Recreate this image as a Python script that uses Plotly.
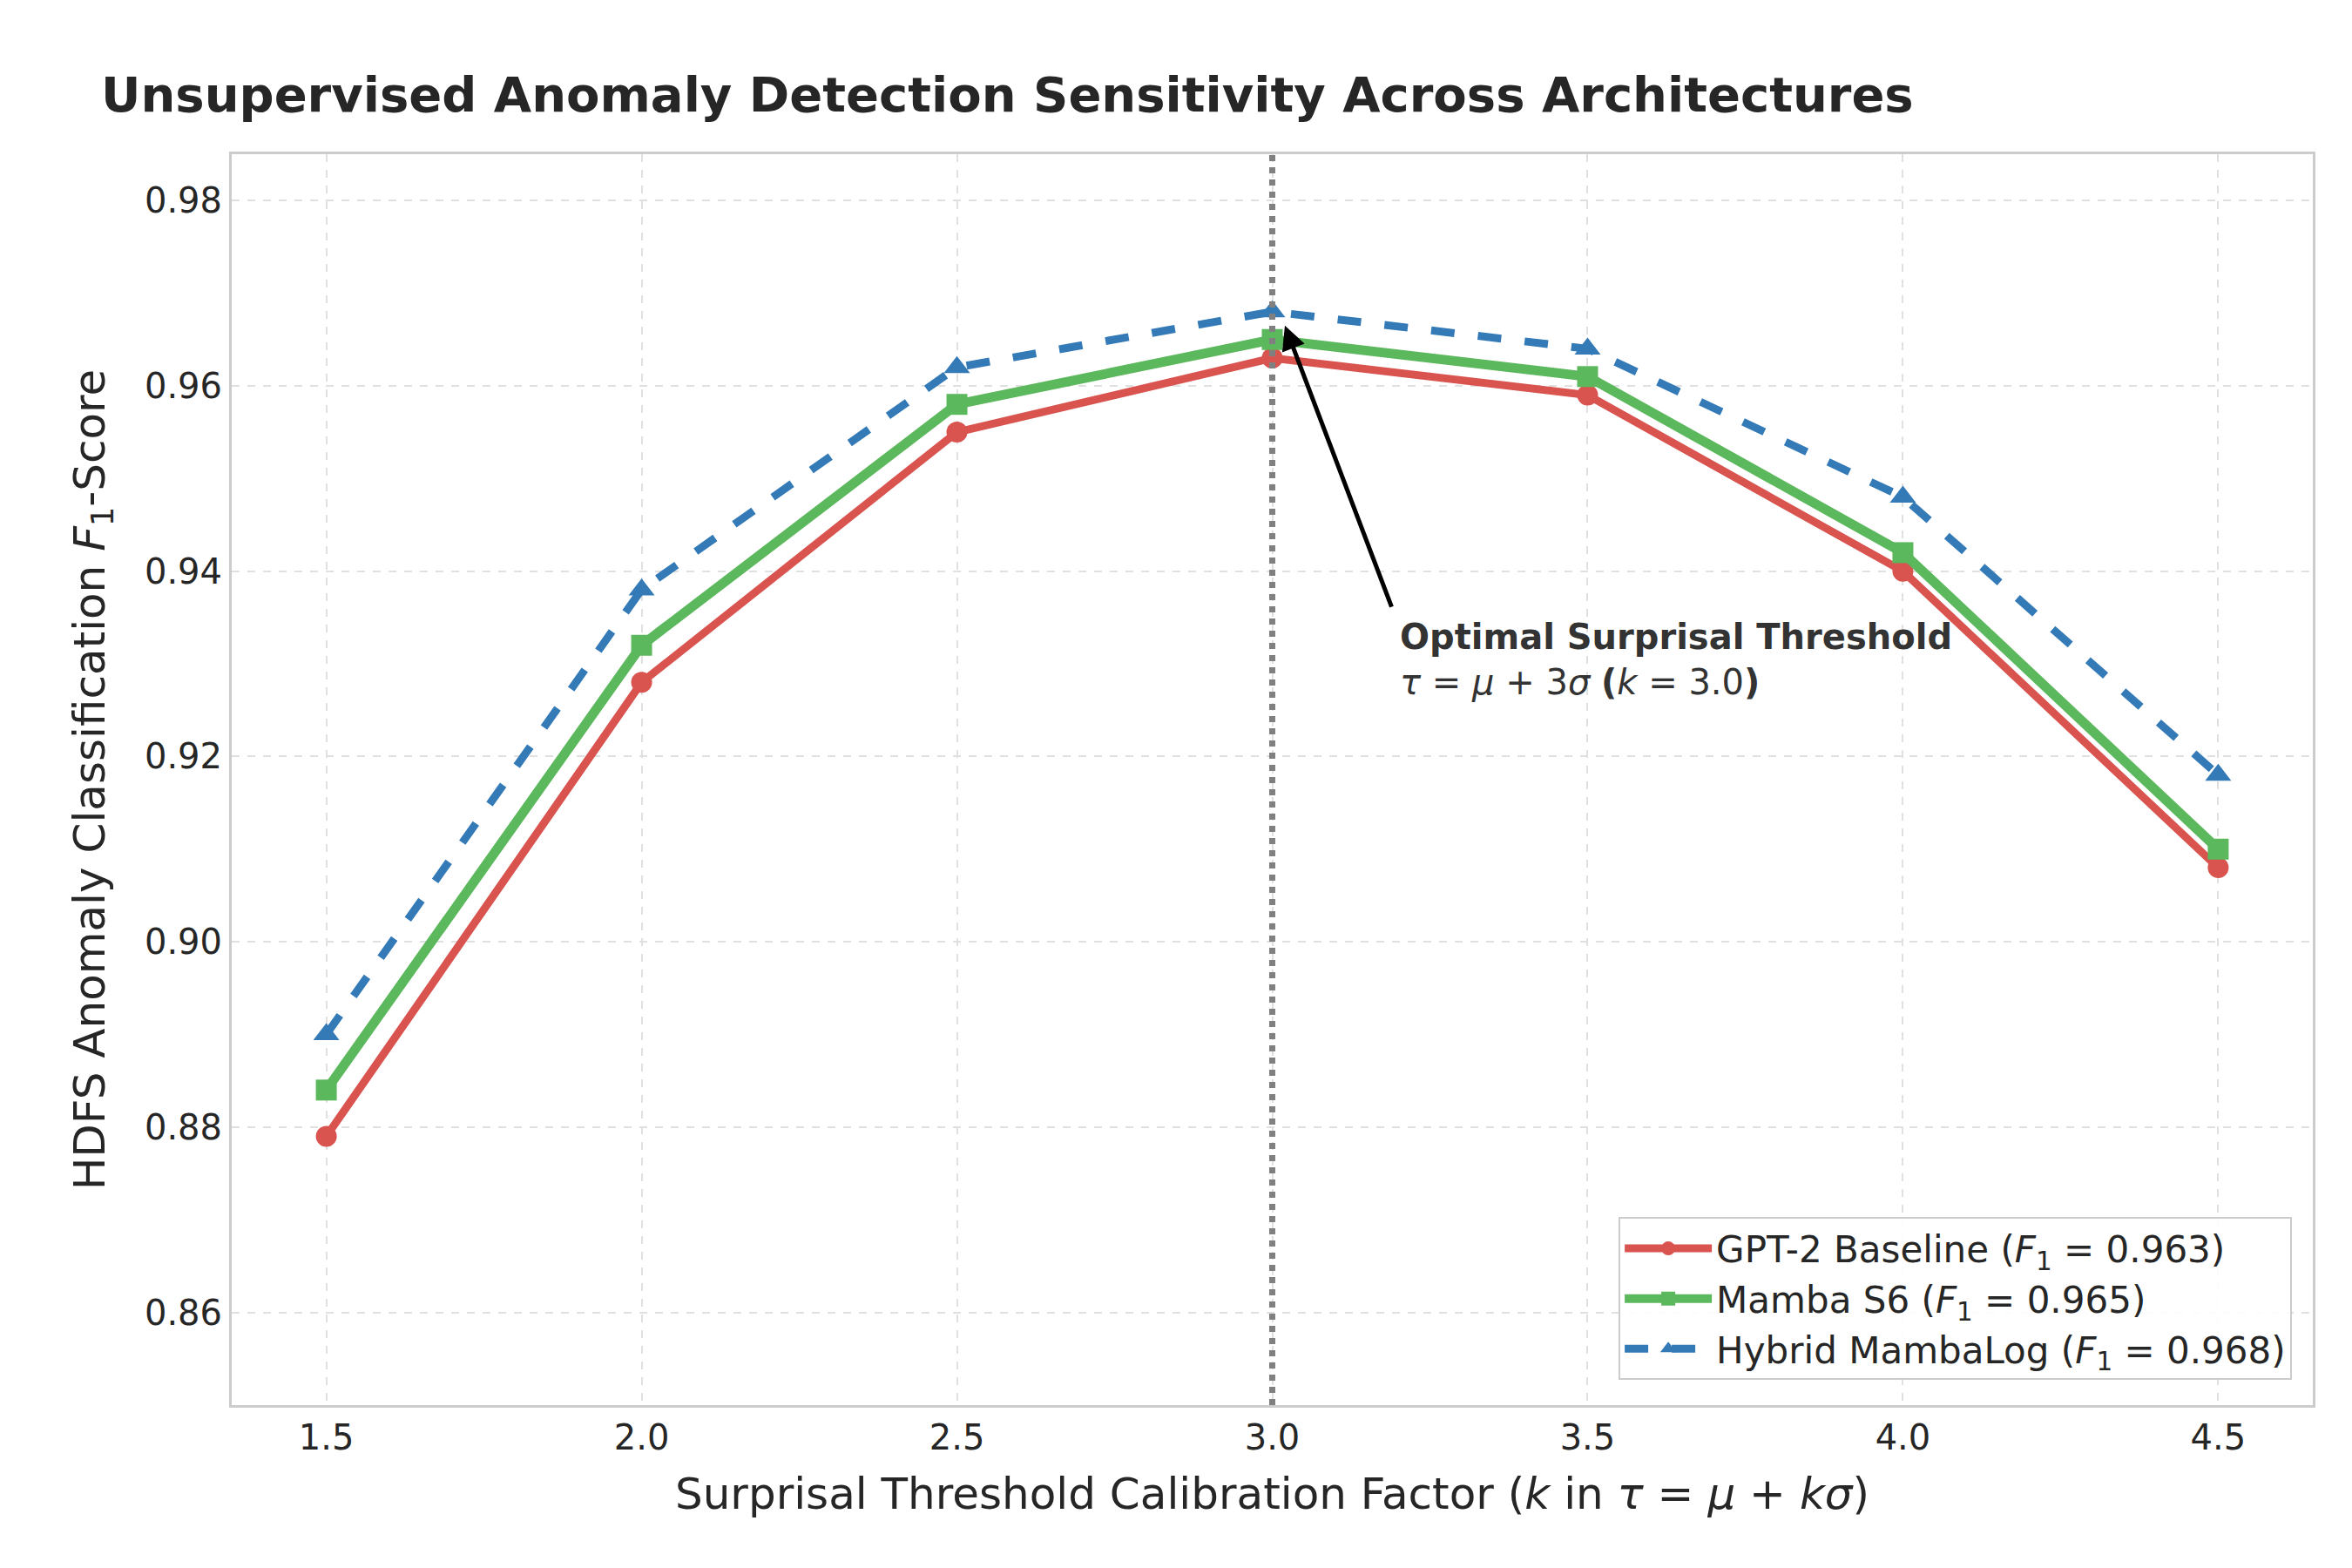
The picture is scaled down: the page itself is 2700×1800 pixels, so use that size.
import plotly.graph_objects as go

k_values = [1.5, 2.0, 2.5, 3.0, 3.5, 4.0, 4.5]
gpt2_f1 = [0.879, 0.928, 0.955, 0.963, 0.959, 0.940, 0.908]
mamba_f1 = [0.884, 0.932, 0.958, 0.965, 0.961, 0.942, 0.910]
hybrid_f1 = [0.890, 0.938, 0.962, 0.968, 0.964, 0.948, 0.918]
y_ticks = [0.86, 0.88, 0.90, 0.92, 0.94, 0.96, 0.98]

fig = go.Figure()

fig.add_trace(go.Scatter(
    x=k_values, y=gpt2_f1, mode='lines+markers',
    name='GPT-2 Baseline (<i>F</i><sub>1</sub> = 0.963)',
    line=dict(color='#d9534f', width=9),
    marker=dict(symbol='circle', size=24, color='#d9534f')
))
fig.add_trace(go.Scatter(
    x=k_values, y=mamba_f1, mode='lines+markers',
    name='Mamba S6 (<i>F</i><sub>1</sub> = 0.965)',
    line=dict(color='#5cb85c', width=11),
    marker=dict(symbol='square', size=24, color='#5cb85c')
))
fig.add_trace(go.Scatter(
    x=k_values, y=hybrid_f1, mode='lines+markers',
    name='Hybrid MambaLog (<i>F</i><sub>1</sub> = 0.968)',
    line=dict(color='#337ab7', width=9, dash='dash'),
    marker=dict(symbol='triangle-up', size=26, color='#337ab7')
))

# optimal threshold line
fig.add_vline(x=3.0, line=dict(color='gray', width=7, dash='dot'))

fig.add_annotation(
    x=3.02, y=0.9665, ax=3.19, ay=0.936, xref='x', yref='y', axref='x', ayref='y',
    text='', showarrow=True, arrowhead=2, arrowsize=1.1, arrowwidth=5, arrowcolor='black'
)
fig.add_annotation(
    x=3.2, y=0.9305, xref='x', yref='y', xanchor='left', yanchor='middle', align='left',
    showarrow=False,
    text='<b>Optimal Surprisal Threshold</b><br><i>τ</i> = <i>μ</i> + 3<i>σ</i> <b>(</b><i>k</i> = 3.0<b>)</b>',
    font=dict(size=40, color='#333333')
)

fig.update_layout(
    width=2700, height=1800,
    paper_bgcolor='white', plot_bgcolor='white',
    font=dict(family='DejaVu Sans', color='#262626'),
    title=dict(text='<b>Unsupervised Anomaly Detection Sensitivity Across Architectures</b>',
               x=0.04, xanchor='left', y=0.955, font=dict(size=56, color='#262626')),
    margin=dict(l=258, r=53, t=169, b=195),
    xaxis=dict(
        title=dict(text='Surprisal Threshold Calibration Factor (<i>k</i> in <i>τ</i> = <i>μ</i> + <i>kσ</i>)',
                   font=dict(size=50), standoff=25),
        range=[1.35, 4.65], tickvals=k_values, ticktext=[f'{v:.1f}' for v in k_values],
        tickfont=dict(size=40), showgrid=True, gridcolor='#e0e0e0', griddash='dash', gridwidth=2,
        showline=True, linecolor='#cccccc', linewidth=3, mirror=True, ticks='', zeroline=False
    ),
    yaxis=dict(
        title=dict(text='HDFS Anomaly Classification <i>F</i><sub>1</sub>-Score', font=dict(size=50), standoff=30),
        range=[0.85, 0.985], tickvals=y_ticks, ticktext=[f'{v:.2f}' for v in y_ticks],
        tickfont=dict(size=40), showgrid=True, gridcolor='#e0e0e0', griddash='dash', gridwidth=2,
        showline=True, linecolor='#cccccc', linewidth=3, mirror=True, ticks='', zeroline=False
    ),
    legend=dict(x=0.99, y=0.02, xanchor='right', yanchor='bottom', font=dict(size=42),
                bgcolor='rgba(255,255,255,0.9)', bordercolor='#cccccc', borderwidth=2,
                itemwidth=100)
)

fig.write_html("out.html")
